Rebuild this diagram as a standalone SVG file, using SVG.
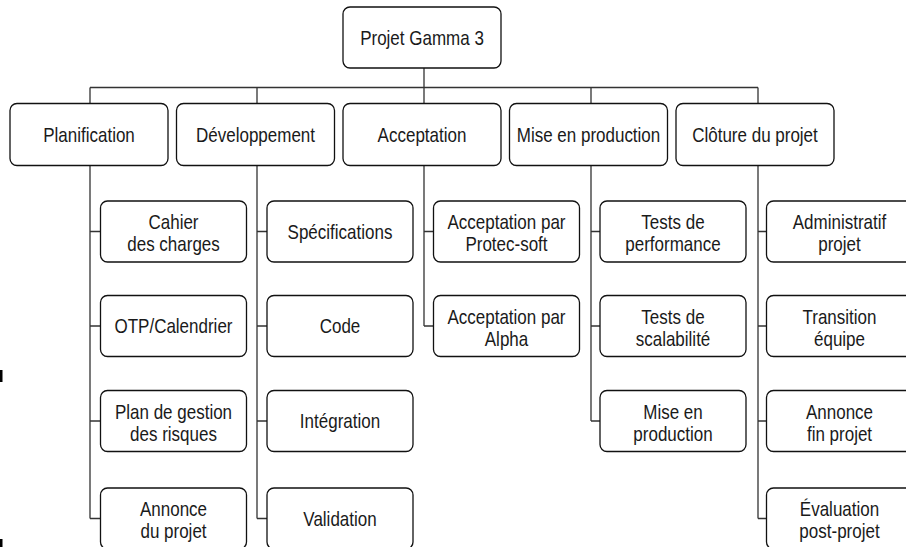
<svg xmlns="http://www.w3.org/2000/svg" width="906" height="547" viewBox="0 0 906 547">
<style>
.b{fill:#fff;stroke:#111;stroke-width:1.3}
.t{font-family:"Liberation Sans",Arial,sans-serif;font-size:20px;fill:#1a1a1a;text-anchor:middle}
.c{fill:none;stroke:#333;stroke-width:1.3}
</style>
<rect x="0" y="0" width="906" height="547" fill="#fff"/>
<rect x="0" y="370" width="2.5" height="12" fill="#000"/>
<rect x="0" y="539" width="2.5" height="8" fill="#000"/>
<g id="connectors">
<path class="c" d="M424 68V104M90 87.5H758M90 87.5V103M257 87.5V103M591 87.5V103M758 87.5V103"/>
<path class="c" d="M90 166V518.5M90 231.5H100.5M90 326H100.5M90 421H100.5M90 518.5H100.5"/>
<path class="c" d="M257 166V518.5M257 231.5H267M257 326H267M257 421H267M257 518.5H267"/>
<path class="c" d="M424 166V326M424 231.5H433.5M424 326H433.5"/>
<path class="c" d="M591 166V421M591 231.5H600M591 326H600M591 421H600"/>
<path class="c" d="M758 166V518.5M758 231.5H766.5M758 326H766.5M758 421H766.5M758 518.5H766.5"/>
</g>
<g id="root"><rect class="b" x="343" y="7" width="158" height="61" rx="7"/><text class="t" transform="matrix(0.85 0 0 1 422 45)">Projet Gamma 3</text></g>
<g id="planification"><rect class="b" x="10" y="103.5" width="158" height="62" rx="7"/><text class="t" transform="matrix(0.85 0 0 1 89 141.5)">Planification</text></g>
<g id="developpement"><rect class="b" x="176.5" y="103.5" width="158" height="62" rx="7"/><text class="t" transform="matrix(0.85 0 0 1 255.5 141.5)">Développement</text></g>
<g id="acceptation"><rect class="b" x="343" y="103.5" width="158" height="62" rx="7"/><text class="t" transform="matrix(0.85 0 0 1 422 141.5)">Acceptation</text></g>
<g id="miseenproduction"><rect class="b" x="509.5" y="103.5" width="158" height="62" rx="7"/><text class="t" transform="matrix(0.85 0 0 1 588.5 141.5)">Mise en production</text></g>
<g id="cloture"><rect class="b" x="676" y="103.5" width="158" height="62" rx="7"/><text class="t" transform="matrix(0.85 0 0 1 755 141.5)">Clôture du projet</text></g>

<g id="p1"><rect class="b" x="100.5" y="201" width="146" height="61" rx="7"/><text class="t" transform="matrix(0.85 0 0 1 173.5 229)">Cahier</text><text class="t" transform="matrix(0.85 0 0 1 173.5 251)">des charges</text></g>
<g id="p2"><rect class="b" x="100.5" y="295.5" width="146" height="61" rx="7"/><text class="t" transform="matrix(0.85 0 0 1 173.5 333)">OTP/Calendrier</text></g>
<g id="p3"><rect class="b" x="100.5" y="390.5" width="146" height="61" rx="7"/><text class="t" transform="matrix(0.85 0 0 1 173.5 418.5)">Plan de gestion</text><text class="t" transform="matrix(0.85 0 0 1 173.5 440.5)">des risques</text></g>
<g id="p4"><rect class="b" x="100.5" y="488" width="146" height="61" rx="7"/><text class="t" transform="matrix(0.85 0 0 1 173.5 516)">Annonce</text><text class="t" transform="matrix(0.85 0 0 1 173.5 538)">du projet</text></g>

<g id="d1"><rect class="b" x="267" y="201" width="146" height="61" rx="7"/><text class="t" transform="matrix(0.85 0 0 1 340 238.5)">Spécifications</text></g>
<g id="d2"><rect class="b" x="267" y="295.5" width="146" height="61" rx="7"/><text class="t" transform="matrix(0.85 0 0 1 340 333)">Code</text></g>
<g id="d3"><rect class="b" x="267" y="390.5" width="146" height="61" rx="7"/><text class="t" transform="matrix(0.85 0 0 1 340 428)">Intégration</text></g>
<g id="d4"><rect class="b" x="267" y="488" width="146" height="61" rx="7"/><text class="t" transform="matrix(0.85 0 0 1 340 525.5)">Validation</text></g>

<g id="a1"><rect class="b" x="433.5" y="201" width="146" height="61" rx="7"/><text class="t" transform="matrix(0.85 0 0 1 506.5 229)">Acceptation par</text><text class="t" transform="matrix(0.85 0 0 1 506.5 251)">Protec-soft</text></g>
<g id="a2"><rect class="b" x="433.5" y="295.5" width="146" height="61" rx="7"/><text class="t" transform="matrix(0.85 0 0 1 506.5 323.5)">Acceptation par</text><text class="t" transform="matrix(0.85 0 0 1 506.5 345.5)">Alpha</text></g>

<g id="m1"><rect class="b" x="600" y="201" width="146" height="61" rx="7"/><text class="t" transform="matrix(0.85 0 0 1 673 229)">Tests de</text><text class="t" transform="matrix(0.85 0 0 1 673 251)">performance</text></g>
<g id="m2"><rect class="b" x="600" y="295.5" width="146" height="61" rx="7"/><text class="t" transform="matrix(0.85 0 0 1 673 323.5)">Tests de</text><text class="t" transform="matrix(0.85 0 0 1 673 345.5)">scalabilité</text></g>
<g id="m3"><rect class="b" x="600" y="390.5" width="146" height="61" rx="7"/><text class="t" transform="matrix(0.85 0 0 1 673 418.5)">Mise en</text><text class="t" transform="matrix(0.85 0 0 1 673 440.5)">production</text></g>

<g id="c1"><rect class="b" x="766.5" y="201" width="146" height="61" rx="7"/><text class="t" transform="matrix(0.85 0 0 1 839.5 229)">Administratif</text><text class="t" transform="matrix(0.85 0 0 1 839.5 251)">projet</text></g>
<g id="c2"><rect class="b" x="766.5" y="295.5" width="146" height="61" rx="7"/><text class="t" transform="matrix(0.85 0 0 1 839.5 323.5)">Transition</text><text class="t" transform="matrix(0.85 0 0 1 839.5 345.5)">équipe</text></g>
<g id="c3"><rect class="b" x="766.5" y="390.5" width="146" height="61" rx="7"/><text class="t" transform="matrix(0.85 0 0 1 839.5 418.5)">Annonce</text><text class="t" transform="matrix(0.85 0 0 1 839.5 440.5)">fin projet</text></g>
<g id="c4"><rect class="b" x="766.5" y="488" width="146" height="61" rx="7"/><text class="t" transform="matrix(0.85 0 0 1 839.5 516)">Évaluation</text><text class="t" transform="matrix(0.85 0 0 1 839.5 538)">post-projet</text></g>
</svg>
